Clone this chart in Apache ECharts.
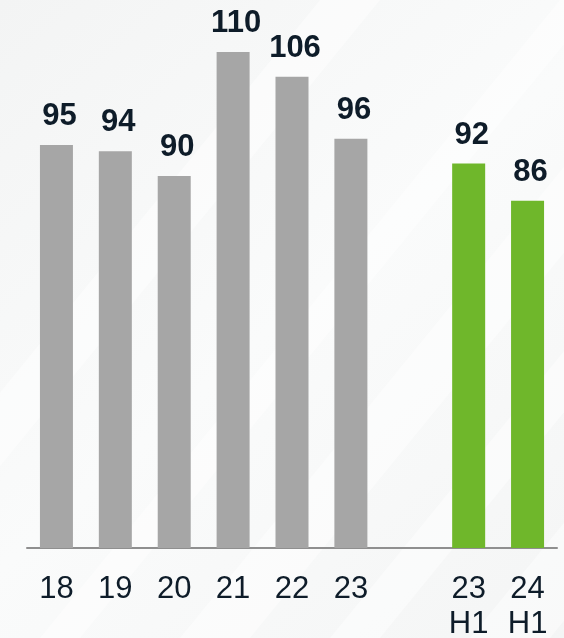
<!DOCTYPE html>
<html>
<head>
<meta charset="utf-8">
<script src="https://cdn.jsdelivr.net/npm/echarts@6/dist/echarts.min.js"></script>
<style>
html,body{margin:0;padding:0;background:#f7f8f8;}
#c{width:564px;height:638px;}
</style>
</head>
<body>
<div id="c"></div>
<script>
const categories = ['18', '19', '20', '21', '22', '23', '', '23\nH1', '24\nH1'];
const values = [95, 94, 90, 110, 106, 96, null, 92, 86];
const halfYear = [false, false, false, false, false, false, false, true, true];

const GRAY = '#a6a6a6';
const GREEN = '#6fb72b';
const TEXT = '#0e1c29';

const chart = echarts.init(document.getElementById('c'));

const stripes = [];
const bands = [[-200, 60], [40, 40], [180, 70], [330, 50], [470, 80]];
bands.forEach(function (b) {
  const x0 = b[0], w = b[1];
  stripes.push({
    type: 'polygon',
    silent: true,
    z: -10,
    shape: { points: [[x0, 638], [x0 + w, 638], [x0 + w + 520, 0], [x0 + 520, 0]] },
    style: { fill: 'rgba(255,255,255,0.45)' }
  });
});

chart.setOption({
  backgroundColor: {
    type: 'linear', x: 0, y: 0, x2: 1, y2: 1,
    colorStops: [{ offset: 0, color: '#f3f4f4' }, { offset: 0.5, color: '#fafbfb' }, { offset: 1, color: '#f4f5f5' }]
  },
  animation: false,
  graphic: stripes,
  grid: { left: 27, right: 7, top: 52, bottom: 90, containLabel: false, outerBoundsMode: 'none' },
  xAxis: {
    type: 'category',
    data: categories,
    axisLine: { show: true, lineStyle: { color: '#8f8f8f', width: 2 } },
    axisTick: { show: false },
    axisLabel: {
      interval: 0,
      margin: 24,
      color: TEXT,
      fontFamily: 'Liberation Sans',
      fontSize: 31,
      lineHeight: 35
    }
  },
  yAxis: {
    type: 'value',
    min: 30,
    max: 110,
    show: false,
    splitLine: { show: false }
  },
  series: [{
    type: 'bar',
    barWidth: 33,
    data: values.map(function (v, i) {
      return { value: v, itemStyle: { color: halfYear[i] ? GREEN : GRAY } };
    }),
    label: {
      show: true,
      position: 'top',
      distance: 13,
      offset: [3, 0],
      color: TEXT,
      fontFamily: 'Liberation Sans',
      fontWeight: 'bold',
      fontSize: 31
    }
  }]
});
</script>
</body>
</html>
